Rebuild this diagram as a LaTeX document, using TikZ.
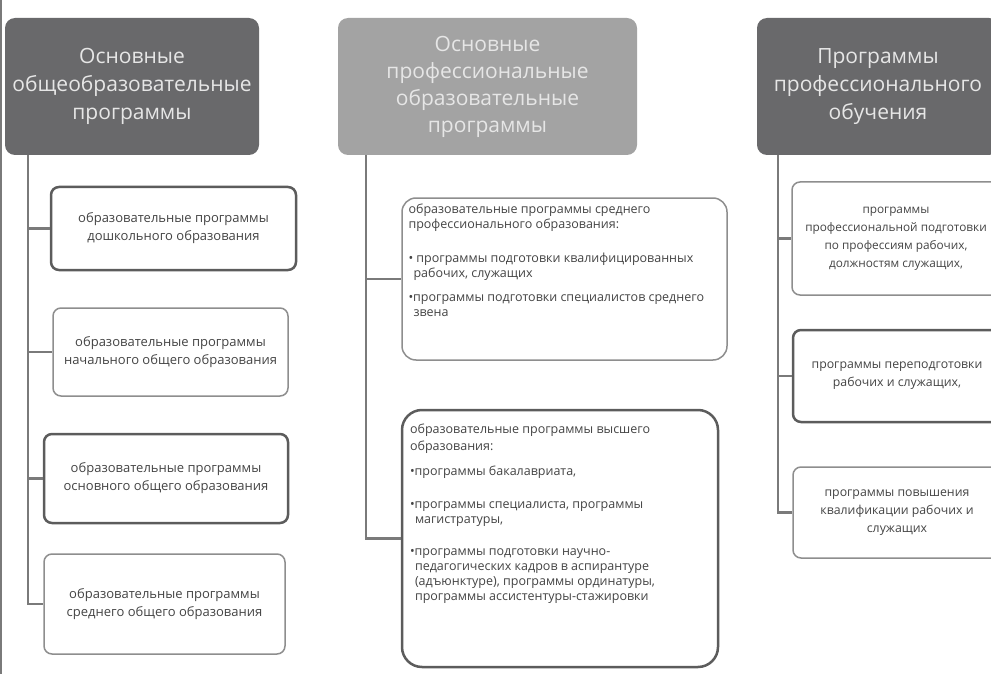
\documentclass[tikz,border=0pt]{standalone}
\usepackage{fontspec}
\setmainfont{Open Sans}
\usetikzlibrary{positioning}
\definecolor{darkhead}{HTML}{69696B}
\definecolor{lighthead}{HTML}{A3A3A3}
\definecolor{headtext}{HTML}{E6E6E6}
\definecolor{boxline}{HTML}{8E8E8E}
\definecolor{boxdark}{HTML}{5C5C5C}
\definecolor{boxtext}{HTML}{444444}
\definecolor{linkgray}{HTML}{7A7A7A}

\begin{document}
\begin{tikzpicture}[x=1pt,y=-1pt,
  head/.style={rounded corners=10pt, fill=#1, text=headtext, align=center,
    font=\fontsize{21}{28}\selectfont, minimum height=137pt, inner sep=0pt},
  prog/.style={draw=boxline, line width=1.5pt, rounded corners=8pt, fill=white,
    align=center, text=boxtext, font=\fontsize{13}{18}\selectfont, inner sep=0pt},
  progbold/.style={prog, draw=boxdark, line width=2.5pt},
  link/.style={draw=linkgray, line width=2.5pt}]
\useasboundingbox (0,0) rectangle (991,674);
\clip (0,0) rectangle (991,674);
\draw [draw=linkgray, line width=1.5pt] (1,0) -- (1,674);

% headers
\node [head=darkhead, minimum width=254pt] (h1) at (132,86.5) {Основные\\общеобразовательные\\программы};
\node [head=lighthead, minimum width=299pt, font=\fontsize{21}{27}\selectfont] (h2) at (487.5,86.5) {Основные\\профессиональные\\образовательные\\программы};
\node [head=darkhead, minimum width=242pt] (h3) at (878,86.5) {Программы\\профессионального\\обучения};

% left column
\node [progbold, minimum width=245pt, minimum height=83pt] (b1) at (173.5,228.5) {образовательные программы\\дошкольного образования};
\node [prog, minimum width=235pt, minimum height=88pt] (b2) at (170.5,352) {образовательные программы\\начального общего образования};
\node [progbold, minimum width=244pt, minimum height=89pt] (b3) at (166,478.5) {образовательные программы\\основного общего образования};
\node [prog, minimum width=241pt, minimum height=100pt] (b4) at (164.5,604) {образовательные программы\\среднего общего образования};

% middle column
\node [prog, rounded corners=14pt, minimum width=325pt, minimum height=162pt, align=left] (mA) at (564.5,279)
  {\parbox[c][150pt][t]{312pt}{\fontsize{12.5}{15}\selectfont
  образовательные программы среднего\\
  профессионального образования:\\[19pt]
  • программы подготовки квалифицированных\\
  \hspace*{5pt}рабочих, служащих\\[9pt]
  •программы подготовки специалистов среднего\\
  \hspace*{5pt}звена}};
\node [progbold, rounded corners=20pt, minimum width=316pt, minimum height=257pt, align=left] (mB) at (560,538.5)
  {\parbox[c][229pt][t]{300pt}{\fontsize{12.5}{15}\selectfont
  образовательные программы высшего\\[2pt]
  образования:\\[10pt]
  •программы бакалавриата,\\[18pt]
  •программы специалиста, программы\\
  \hspace*{5pt}магистратуры,\\[17pt]
  •программы подготовки научно-\\
  \hspace*{5pt}педагогических кадров в аспирантуре\\
  \hspace*{5pt}(адъюнктуре), программы ординатуры,\\
  \hspace*{5pt}программы ассистентуры-стажировки}};

% right column
\node [prog, minimum width=208pt, minimum height=113pt, font=\fontsize{11.8}{18}\selectfont] (r1) at (896,238.5) {программы\\профессиональной подготовки\\по профессиям рабочих,\\должностям служащих,};
\node [progbold, minimum width=208pt, minimum height=92pt, font=\fontsize{12.3}{18}\selectfont] (r2) at (897,376) {программы переподготовки\\рабочих и служащих,};
\node [prog, minimum width=208pt, minimum height=91pt, font=\fontsize{12.3}{18}\selectfont] (r3) at (897,512.5) {программы повышения\\квалификации рабочих и\\служащих};

% trunks
\coordinate (t1) at ([xshift=23pt]h1.south west);
\coordinate (t2) at ([xshift=28pt]h2.south west);
\coordinate (t3) at ([xshift=21pt]h3.south west);
\draw [link] (t1) |- (b4.west);
\foreach \b in {b1,b2,b3}
  \draw [link] (\b.west -| t1) -- (\b.west);
\draw [link] (t2) |- (mB.west);
\draw [link] (mA.west -| t2) -- (mA.west);
\draw [link] (t3) |- (r3.west);
\foreach \b in {r1,r2}
  \draw [link] (\b.west -| t3) -- (\b.west);
\end{tikzpicture}
\end{document}
